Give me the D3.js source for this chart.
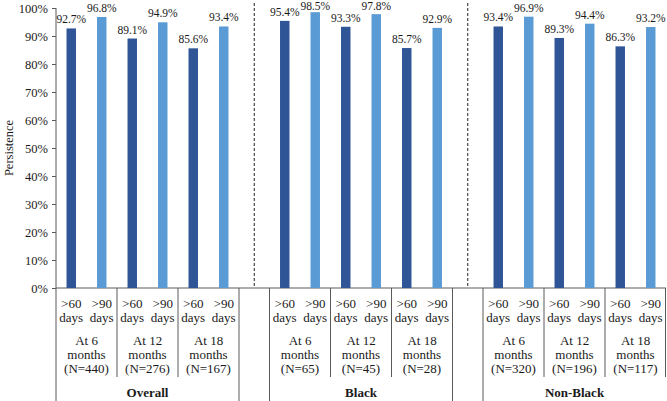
<!DOCTYPE html>
<html>
<head>
<meta charset="utf-8">
<script src="https://cdn.jsdelivr.net/npm/d3@7/dist/d3.min.js"></script>
<style>
  html, body { margin: 0; padding: 0; background: #fff; }
  svg { display: block; }
  text { font-family: "Liberation Serif", "Times New Roman", serif; fill: #1a1a1a; }
</style>
</head>
<body>
<svg id="chart" width="667" height="401"></svg>
<script>
// ---- data ----
const groups = ["Overall", "Black", "Non-Black"];
const periods = ["At 6", "At 12", "At 18"];
const thresholds = [">60", ">90"];
const nOverall = [440, 276, 167];
const nBlack = [65, 45, 28];
const nNonBlack = [320, 196, 117];
const gt60Overall = [92.7, 89.1, 85.6];
const gt90Overall = [96.8, 94.9, 93.4];
const gt60Black = [95.4, 93.3, 85.7];
const gt90Black = [98.5, 97.8, 92.9];
const gt60NonBlack = [93.4, 89.3, 86.3];
const gt90NonBlack = [96.9, 94.4, 93.2];
const yTicks = [0, 10, 20, 30, 40, 50, 60, 70, 80, 90, 100];

(function () {
const nByGroup = [nOverall, nBlack, nNonBlack];
const v60 = [gt60Overall, gt60Black, gt60NonBlack];
const v90 = [gt90Overall, gt90Black, gt90NonBlack];

// build slots
const slots = [];
const bars = [];
groups.forEach((g, gi) => {
  if (gi > 0) slots.push("gap" + gi);
  periods.forEach((p, pi) => {
    thresholds.forEach((t, ti) => {
      const key = g + "|" + p + "|" + t;
      slots.push(key);
      bars.push({key, gi, pi, ti, value: ti === 0 ? v60[gi][pi] : v90[gi][pi]});
    });
  });
});

const svg = d3.select("#chart");
const mLeft = 56, mRight = 666, mTop = 8, base = 288;
const x = d3.scaleBand().domain(slots).range([mLeft, mRight]).padding(0);
const y = d3.scaleLinear().domain([0, 100]).range([base, mTop]);
const bw = x.bandwidth() * 0.31;
const colors = ["#2F5597", "#5B9BD5"];
const lineColor = "#5a5a5a";

// y axis
const yAxis = svg.append("g").attr("transform", `translate(${mLeft},0)`)
  .call(d3.axisLeft(y).tickValues(yTicks).tickSize(4).tickPadding(4).tickFormat(d => d + "%"));
yAxis.select(".domain").remove();
yAxis.selectAll(".tick line").attr("stroke", lineColor);
yAxis.selectAll(".tick text").attr("font-size", "12.5px").attr("font-family", "Liberation Serif").attr("fill", "#1a1a1a");
svg.append("line").attr("x1", mLeft).attr("x2", mLeft).attr("y1", mTop).attr("y2", 401)
  .attr("stroke", lineColor).attr("stroke-width", 1);

// x axis baseline
svg.append("line").attr("x1", mLeft).attr("x2", mRight).attr("y1", base).attr("y2", base)
  .attr("stroke", lineColor).attr("stroke-width", 1);

// y title
svg.append("text").attr("transform", `translate(13,${(mTop + base) / 2}) rotate(-90)`)
  .attr("text-anchor", "middle").attr("font-size", "12.5px").text("Persistence");

// bars
svg.selectAll("rect.bar").data(bars).join("rect")
  .attr("class", "bar")
  .attr("x", d => x(d.key) + (x.bandwidth() - bw) / 2)
  .attr("width", bw)
  .attr("y", d => y(d.value))
  .attr("height", d => base - y(d.value))
  .attr("fill", d => colors[d.ti]);

// bar labels
svg.selectAll("text.lbl").data(bars).join("text")
  .attr("class", "lbl")
  .attr("x", d => x(d.key) + x.bandwidth() / 2)
  .attr("y", d => Math.max(y(d.value) - 5, 9.5))
  .attr("text-anchor", "middle")
  .attr("font-size", "11.5px")
  .text(d => d.value.toFixed(1) + "%");

// dashed separators
slots.filter(s => s.startsWith("gap")).forEach(s => {
  const cx = x(s) + x.bandwidth() / 2;
  svg.append("line").attr("x1", cx).attr("x2", cx).attr("y1", 3).attr("y2", base)
    .attr("stroke", "#222").attr("stroke-width", 1).attr("stroke-dasharray", "3,2");
});

// category table
bars.forEach(d => {
  const cx = x(d.key) + x.bandwidth() / 2;
  svg.append("text").attr("x", cx).attr("y", 308).attr("text-anchor", "middle")
    .attr("font-size", "13px").text(thresholds[d.ti]);
  svg.append("text").attr("x", cx).attr("y", 322).attr("text-anchor", "middle")
    .attr("font-size", "13px").text("days");
});

groups.forEach((g, gi) => {
  const firstKey = g + "|" + periods[0] + "|" + thresholds[0];
  const lastKey = g + "|" + periods[2] + "|" + thresholds[1];
  const gx0 = x(firstKey), gx1 = x(lastKey) + x.bandwidth();
  periods.forEach((p, pi) => {
    const k0 = g + "|" + p + "|" + thresholds[0];
    const px0 = x(k0), px1 = px0 + 2 * x.bandwidth();
    const cx = (px0 + px1) / 2;
    svg.append("text").attr("x", cx).attr("y", 345).attr("text-anchor", "middle")
      .attr("font-size", "13px").text(p);
    svg.append("text").attr("x", cx).attr("y", 359).attr("text-anchor", "middle")
      .attr("font-size", "13px").text("months");
    svg.append("text").attr("x", cx).attr("y", 373).attr("text-anchor", "middle")
      .attr("font-size", "13px").text("(N=" + nByGroup[gi][pi] + ")");
    if (pi > 0) {
      svg.append("line").attr("x1", px0).attr("x2", px0).attr("y1", base).attr("y2", 377)
        .attr("stroke", lineColor);
    }
  });
  svg.append("text").attr("x", (gx0 + gx1) / 2).attr("y", 397).attr("text-anchor", "middle")
    .attr("font-size", "13px").attr("font-weight", "bold").text(g);
  // group boundaries
  if (gi > 0) {
    svg.append("line").attr("x1", gx0).attr("x2", gx0).attr("y1", base).attr("y2", 401).attr("stroke", lineColor);
  }
  if (gi < groups.length - 1) {
    svg.append("line").attr("x1", gx1).attr("x2", gx1).attr("y1", base).attr("y2", 401).attr("stroke", lineColor);
  } else {
    svg.append("line").attr("x1", gx1 - 0.5).attr("x2", gx1 - 0.5).attr("y1", base).attr("y2", 377).attr("stroke", lineColor);
  }
});
})();
</script>
</body>
</html>
